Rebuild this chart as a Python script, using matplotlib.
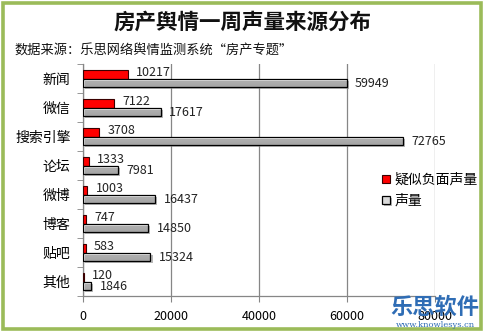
import matplotlib
matplotlib.use("Agg")
import matplotlib.pyplot as plt
import matplotlib.patheffects as pe
from matplotlib.patches import Rectangle
import numpy as np

plt.rcParams['font.family'] = ['Noto Sans CJK SC', 'DejaVu Sans']

categories = ["新闻", "微信", "搜索引擎", "论坛", "微博", "博客", "贴吧", "其他"]
negative = [10217, 7122, 3708, 1333, 1003, 747, 583, 120]
volume = [59949, 17617, 72765, 7981, 16437, 14850, 15324, 1846]
x_ticks = [0, 20000, 40000, 60000, 80000]
series_names = ["疑似负面声量", "声量"]

W, H = 485, 333
fig = plt.figure(figsize=(W / 100, H / 100), dpi=100)
fig.patch.set_facecolor("white")

# outer green frame
fig.patches.append(Rectangle((3 / W, 4 / H), 478 / W, 326 / H, transform=fig.transFigure,
                             fill=False, edgecolor="#9BBB59", linewidth=2.6, zorder=0))

ax = fig.add_axes([83 / W, 1 - 296 / H, 352 / W, 232 / H])
ax.set_facecolor("none")

y = np.arange(len(categories))
h = 0.28
red_bars = ax.barh(y - h / 2, negative, height=h, color="#FF0000", edgecolor="#3a0000",
                   linewidth=0.8, label=series_names[0], zorder=3)
gray_bars = ax.barh(y + h / 2, volume, height=h, color="#d9d9d9", edgecolor="black",
                    linewidth=0.9, label=series_names[1], zorder=3)
cmap = matplotlib.colors.LinearSegmentedColormap.from_list("g", ["#f6f6f6", "#cfcfcf"])
for b in gray_bars:
    b.set_path_effects([pe.SimplePatchShadow(offset=(1.5, -1.5), shadow_rgbFace="#888888", alpha=0.6),
                        pe.Normal()])
    x0, y0, w, hh = b.get_x(), b.get_y(), b.get_width(), b.get_height()
    grad = np.linspace(0, 1, 32).reshape(-1, 1)
    im = ax.imshow(grad, extent=(x0, x0 + w, y0 + hh, y0), cmap=cmap,
                   aspect="auto", zorder=3.5, origin="upper")
    im.set_clip_path(b)
    b.set_facecolor("none")
    b.set_zorder(4)

for b, v in zip(red_bars, negative):
    ax.annotate(str(v), (b.get_width(), b.get_y() + b.get_height() / 2 - 0.06),
                xytext=(6, 0), textcoords="offset points", va="center", ha="left", fontsize=9,
                color="#222222")
for b, v in zip(gray_bars, volume):
    ax.annotate(str(v), (b.get_width(), b.get_y() + b.get_height() / 2 + 0.04),
                xytext=(6, 0), textcoords="offset points", va="center", ha="left", fontsize=9,
                color="#222222")

ax.set_xlim(0, 80000)
ax.set_ylim(len(categories) - 0.5, -0.5)
ax.set_xticks(x_ticks)
ax.set_xticklabels([str(t) for t in x_ticks], fontsize=9)
ax.set_yticks(y)
ax.set_yticklabels(categories, fontsize=10)
ax.set_yticks(np.arange(len(categories) + 1) - 0.5, minor=True)
ax.tick_params(axis="y", which="major", length=0, pad=9)
ax.tick_params(axis="y", which="minor", length=4, color="#868686", direction="out")
ax.tick_params(axis="x", length=4, color="#868686", pad=6)
ax.grid(axis="x", color="#868686", linewidth=0.9, zorder=0)
ax.set_axisbelow(True)
for s in ["top", "right"]:
    ax.spines[s].set_visible(False)
for s in ["left", "bottom"]:
    ax.spines[s].set_color("#868686")
    ax.spines[s].set_linewidth(0.9)

leg = ax.legend(loc="upper left", bbox_to_anchor=(292 / 352, (296 - 166) / 232), frameon=False,
                fontsize=10, handlelength=0.6, handleheight=0.6, handletextpad=0.3,
                labelspacing=0.5, borderpad=0)
leg.legend_handles[1].set_facecolor("#d9d9d9")

fig.text(242 / W, 1 - 22 / H, "房产舆情一周声量来源分布", ha="center", va="center",
         fontsize=15.5, fontweight="bold", color="#111111")
fig.text(14 / W, 1 - 51 / H, "数据来源：乐思网络舆情监测系统“房产专题”", ha="left", va="center",
         fontsize=9.5, color="#111111")

fig.text(435 / W, 1 - 307 / H, "乐思软件", ha="center", va="center", fontsize=16,
         fontweight="bold", color="#2F6DB5", zorder=10)
fig.text(435 / W, 1 - 325 / H, "www.knowlesys.cn", ha="center", va="center", fontsize=6,
         family=["DejaVu Serif"], color="#2F6DB5", zorder=10)

fig.savefig("out.png", dpi=100, facecolor="white")
